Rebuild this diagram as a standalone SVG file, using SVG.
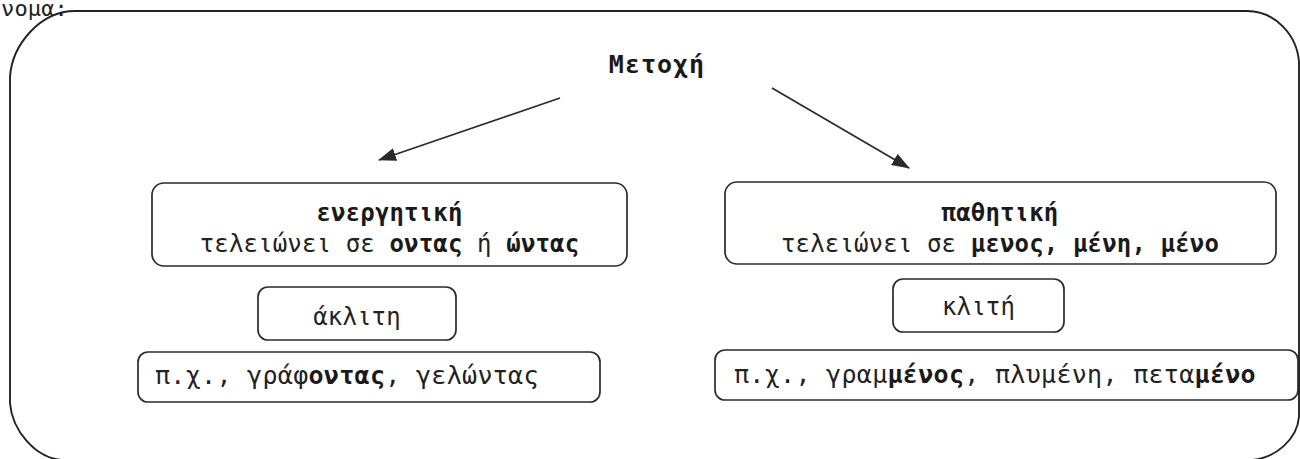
<svg xmlns="http://www.w3.org/2000/svg" width="1300" height="459" viewBox="0 0 1300 459">
<defs>
<style>
.t{font-family:"DejaVu Sans Mono","Liberation Mono",monospace;fill:#222;font-size:24px;letter-spacing:0.15px}
.ex{font-size:25px;letter-spacing:0.3px}
.b{font-weight:bold;fill:#1a1a1a}
.box{fill:none;stroke:#2a2a2a;stroke-width:1.7}
.edge{stroke:#2a2a2a;stroke-width:1.7;fill:none}
</style>
<marker id="ah" markerWidth="18" markerHeight="13" refX="17" refY="6.5" orient="auto" markerUnits="userSpaceOnUse">
<path d="M0,0 L18,6.5 L0,13 Z" fill="#2a2a2a"/>
</marker>
</defs>
<rect width="1300" height="459" fill="#fff"/>
<text class="t" x="1" y="16" style="font-size:22px">νομα:</text>
<path id="frame" d="M75,11 H1247 C1275,11 1297,35 1299,62 V417 C1297,440 1275,458 1252,460 H62 C35,458 12,430 10,403 V77 C12,45 40,11 75,11 Z" fill="none" stroke="#222" stroke-width="1.9"/>
<g id="root">
<text class="t b" x="657" y="73" text-anchor="middle" style="font-size:25px;letter-spacing:1px">Μετοχή</text>
</g>
<g id="connectors">
<line class="edge" x1="560" y1="98" x2="379" y2="160" marker-end="url(#ah)"/>
<line class="edge" x1="772" y1="88" x2="909" y2="168" marker-end="url(#ah)"/>
</g>
<g id="energitiki">
<rect class="box" x="152" y="183" width="475" height="83" rx="12"/>
<text class="t b" x="389.5" y="221" text-anchor="middle">ενεργητική</text>
<text class="t" x="389.5" y="252" text-anchor="middle">τελειώνει σε <tspan class="b">οντας</tspan> ή <tspan class="b">ώντας</tspan></text>
</g>
<g id="pathitiki">
<rect class="box" x="725" y="182" width="551" height="82" rx="12"/>
<text class="t b" x="1000" y="221" text-anchor="middle">παθητική</text>
<text class="t" x="1000" y="252" text-anchor="middle">τελειώνει σε <tspan class="b">μενος, μένη, μένο</tspan></text>
</g>
<g id="aklith">
<rect class="box" x="258" y="287" width="198" height="53" rx="10"/>
<text class="t" x="357" y="325" text-anchor="middle">άκλιτη</text>
</g>
<g id="klith">
<rect class="box" x="893" y="279" width="171" height="53" rx="10"/>
<text class="t" x="978.5" y="315" text-anchor="middle">κλιτή</text>
</g>
<g id="example-left">
<rect class="box" x="138" y="352" width="462" height="50" rx="10"/>
<text class="t ex" x="155" y="384">π.χ., γράφ<tspan class="b">οντας</tspan>, γελώντας</text>
</g>
<g id="example-right">
<rect class="box" x="715" y="350" width="583" height="50" rx="10"/>
<text class="t ex" x="734" y="383">π.χ., γραμ<tspan class="b">μένος</tspan>, πλυμένη, πετα<tspan class="b">μένο</tspan></text>
</g>
</svg>
